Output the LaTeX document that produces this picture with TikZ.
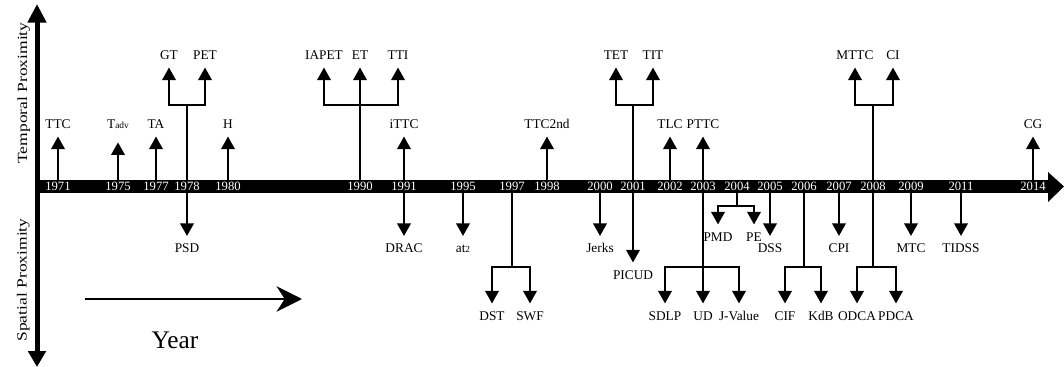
\documentclass[tikz,border=0pt]{standalone}
\usepackage{fontspec}
\setmainfont{Liberation Serif}
\usetikzlibrary{arrows.meta}
\begin{document}
\begin{tikzpicture}[x=0.75pt,y=-0.75pt,
  yr/.style={text=white, font=\fontsize{9.5}{10}\selectfont, inner sep=0pt, text height=6.6pt, text depth=0pt, minimum height=9.75pt},
  lbl/.style={font=\fontsize{10}{12}\selectfont, inner sep=0pt, text height=6.7pt, text depth=0pt},
  uplbl/.style={lbl, anchor=south},
  dnlbl/.style={lbl, anchor=north},
  stem/.style={line width=1.9pt},
  arr/.style={stem, -{Triangle[width=10pt,length=9.5pt]}, shorten >=5.6pt},
  axislbl/.style={rotate=90, anchor=base, font=\fontsize{10.5}{12}\selectfont, inner sep=0pt},
]
\useasboundingbox (0,0) rectangle (1064,367);

% main time bar
\fill (36,180) rectangle (1048,193);
\fill (1048,172) -- (1064,186.5) -- (1048,202) -- cycle;
% vertical axis
\draw[line width=3.75pt, {Triangle[width=13.5pt,length=14pt]}-{Triangle[width=13pt,length=12pt]}] (37,4) -- (37,367);

% axis labels
\node[axislbl] (tp) at (27,93) {\scalebox{1.25}[1]{Temporal Proximity}};
\node[axislbl] (sp) at (26.5,280) {\scalebox{1.25}[1]{Spatial Proximity}};

% years
\foreach \yx/\yy in {58/1971,118/1975,156/1977,187/1978,228/1980,360/1990,404/1991,463/1995,512/1997,547/1998,600/2000,633/2001,670/2002,703/2003,737/2004,770/2005,804/2006,839/2007,873/2008,911/2009,961/2011,1033/2014}
  \node[yr] (Y\yy) at (\yx,186.5) {\yy};

% upper single labels
\node[uplbl] (TTC) at (58,129) {TTC};
\node[uplbl] (Tadv) at (118,129) {T{\fontsize{7}{8}\selectfont adv}};
\node[uplbl] (TA) at (156,129) {TA};
\node[uplbl] (H) at (228,129) {H};
\node[uplbl] (iTTC) at (404,129) {iTTC};
\node[uplbl] (TTC2nd) at (547,129) {TTC2nd};
\node[uplbl] (TLC) at (670,129) {TLC};
\node[uplbl] (PTTC) at (703,129) {PTTC};
\node[uplbl] (CG) at (1033,129) {CG};

\draw[arr] (Y1971.north) -- (TTC.south);
\draw[arr, shorten >=10pt] (Y1975.north) -- (Tadv.south);
\draw[arr] (Y1977.north) -- (TA.south);
\draw[arr] (Y1980.north) -- (H.south);
\draw[arr] (Y1991.north) -- (iTTC.south);
\draw[arr] (Y1998.north) -- (TTC2nd.south);
\draw[arr] (Y2002.north) -- (TLC.south);
\draw[arr] (Y2003.north) -- (PTTC.south);
\draw[arr] (Y2014.north) -- (CG.south);

% upper branch labels
\node[uplbl] (GT) at (169,60) {GT};
\node[uplbl] (PET) at (205,60) {PET};
\node[uplbl] (IAPET) at (324,60) {IAPET};
\node[uplbl] (ET) at (360,60) {ET};
\node[uplbl] (TTI) at (398,60) {TTI};
\node[uplbl] (TET) at (616,60) {TET};
\node[uplbl] (TIT) at (653,60) {TIT};
\node[uplbl] (MTTC) at (855,60) {MTTC};
\node[uplbl] (CI) at (893,60) {CI};

\coordinate (J1978) at (187,105);
\coordinate (J1990) at (360,105);
\coordinate (J2001) at (633,105);
\coordinate (J2008) at (873,105);
\draw[stem] (Y1978.north) -- (J1978);
\draw[arr] (J1978) -| (GT.south);
\draw[arr] (J1978) -| (PET.south);
\draw[arr] (Y1990.north) -- (ET.south);
\draw[arr] (J1990) -| (IAPET.south);
\draw[arr] (J1990) -| (TTI.south);
\draw[stem] (Y2001.north) -- (J2001);
\draw[arr] (J2001) -| (TET.south);
\draw[arr] (J2001) -| (TIT.south);
\draw[stem] (Y2008.north) -- (J2008);
\draw[arr] (J2008) -| (MTTC.south);
\draw[arr] (J2008) -| (CI.south);

% lower single labels
\node[dnlbl] (PSD) at (187,243.5) {PSD};
\node[dnlbl] (DRAC) at (404,243.5) {DRAC};
\node[dnlbl] (at2) at (463,243.5) {at{\fontsize{7}{8}\selectfont 2}};
\node[dnlbl] (Jerks) at (600,243.5) {Jerks};
\node[dnlbl] (DSS) at (770,243.5) {DSS};
\node[dnlbl] (CPI) at (839,243.5) {CPI};
\node[dnlbl] (MTC) at (911,243.5) {MTC};
\node[dnlbl] (TIDSS) at (961,243.5) {TIDSS};
\node[dnlbl] (PICUD) at (633,270) {PICUD};

\draw[arr] (Y1978.south) -- (PSD.north);
\draw[arr] (Y1991.south) -- (DRAC.north);
\draw[arr] (Y1995.south) -- (at2.north);
\draw[arr] (Y2000.south) -- (Jerks.north);
\draw[arr] (Y2005.south) -- (DSS.north);
\draw[arr] (Y2007.south) -- (CPI.north);
\draw[arr] (Y2009.south) -- (MTC.north);
\draw[arr] (Y2011.south) -- (TIDSS.north);
\draw[arr] (Y2001.south) -- (PICUD.north);

% lower branch labels
\node[dnlbl] (PMD) at (718,232) {PMD};
\node[dnlbl] (PE) at (754,232) {PE};
\node[dnlbl] (DST) at (492,311) {DST};
\node[dnlbl] (SWF) at (530,311) {SWF};
\node[dnlbl] (SDLP) at (665,311) {SDLP};
\node[dnlbl] (UD) at (703,311) {UD};
\node[dnlbl] (JV) at (739,311) {J-Value};
\node[dnlbl] (CIF) at (785,311) {CIF};
\node[dnlbl] (KdB) at (821,311) {KdB};
\node[dnlbl] (ODCA) at (857,311) {ODCA};
\node[dnlbl] (PDCA) at (896,311) {PDCA};

\coordinate (K2004) at (737,206);
\coordinate (K1997) at (512,267);
\coordinate (K2003) at (703,267);
\coordinate (K2006) at (804,267);
\coordinate (K2008) at (873,267);
\draw[stem] (Y2004.south) -- (K2004);
\draw[arr] (K2004) -| (PMD.north);
\draw[arr] (K2004) -| (PE.north);
\draw[stem] (Y1997.south) -- (K1997);
\draw[arr] (K1997) -| (DST.north);
\draw[arr] (K1997) -| (SWF.north);
\draw[arr] (Y2003.south) -- (UD.north);
\draw[arr] (K2003) -| (SDLP.north);
\draw[arr] (K2003) -| (JV.north);
\draw[stem] (Y2006.south) -- (K2006);
\draw[arr] (K2006) -| (CIF.north);
\draw[arr] (K2006) -| (KdB.north);
\draw[stem] (Y2008.south) -- (K2008);
\draw[arr] (K2008) -| (ODCA.north);
\draw[arr] (K2008) -| (PDCA.north);

% year direction arrow
\coordinate (ya1) at (85,299);
\coordinate (ya2) at (302,299);
\draw[line width=1.9pt, -{Stealth[length=19pt,width=19pt,inset=6pt]}] (ya1) -- (ya2);
\node[font=\fontsize{19}{22}\selectfont, inner sep=0pt] (year) at (175,340) {Year};
\end{tikzpicture}
\end{document}
